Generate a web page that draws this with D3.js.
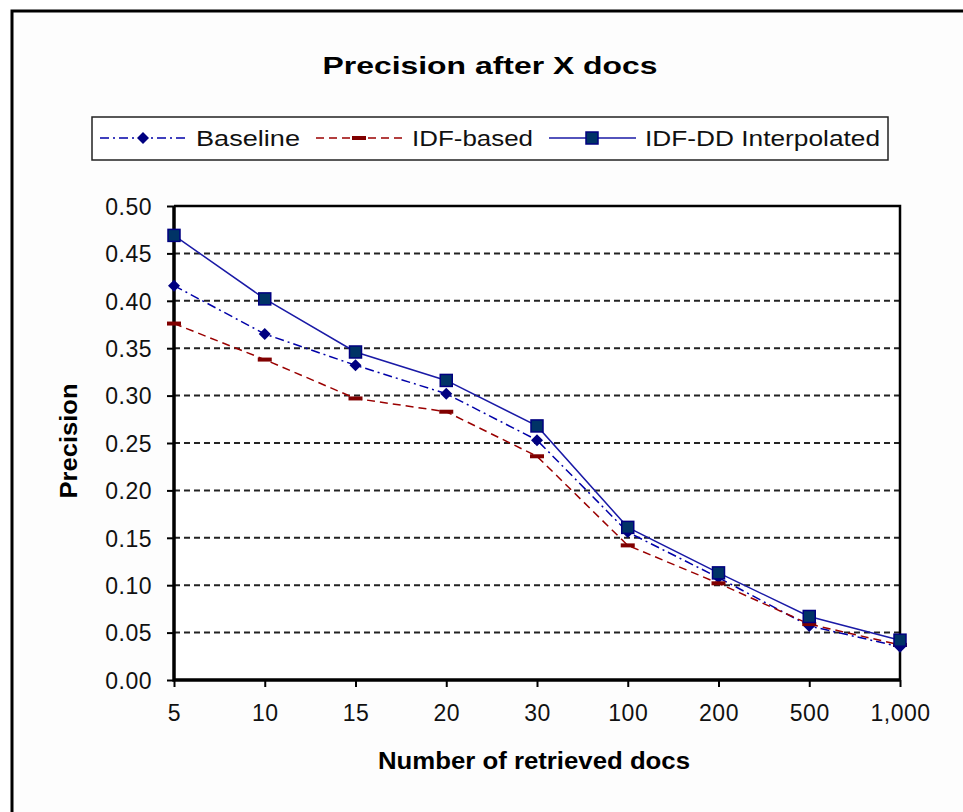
<!DOCTYPE html>
<html>
<head>
<meta charset="utf-8">
<script src="https://cdn.jsdelivr.net/npm/d3@7"></script>
<style>
	body { margin: 0; background: #fff; }
	svg { display: block; font-family: Arial, "Liberation Sans", sans-serif; }
</style>
</head>
<body>
<svg id="chart" width="963" height="812"></svg>
<script>
// chart data
var categories = ["5", "10", "15", "20", "30", "100", "200", "500", "1,000"];
var baseline = [0.416, 0.365, 0.332, 0.302, 0.253, 0.156, 0.108, 0.057, 0.035];
var idfBased = [0.376, 0.338, 0.297, 0.283, 0.236, 0.142, 0.102, 0.059, 0.037];
var idfDD = [0.469, 0.402, 0.346, 0.316, 0.268, 0.161, 0.113, 0.067, 0.042];
var yTicks = [0, 0.05, 0.10, 0.15, 0.20, 0.25, 0.30, 0.35, 0.40, 0.45, 0.50];

var series = [
	{name: "Baseline", values: baseline, color: "#0000a8", dash: "9,4,2,4", marker: "diamond"},
	{name: "IDF-based", values: idfBased, color: "#9a0000", dash: "8,5", marker: "bar"},
	{name: "IDF-DD Interpolated", values: idfDD, color: "#1a1aa6", dash: null, marker: "square"}
];

var plotLeft = 174, plotRight = 900, plotTop = 206, plotBottom = 680;
var svg = d3.select("#chart");

// outer frame
svg.append("rect")
	.attr("x", 12).attr("y", 11)
	.attr("width", 1000).attr("height", 900)
	.style("fill", "#fdfdfd")
	.style("stroke", "black")
	.style("stroke-width", 3);

var x = d3.scalePoint().domain(categories).range([plotLeft, plotRight]).padding(0);
var y = d3.scaleLinear().domain([0, 0.5]).range([plotBottom, plotTop]);

// title
svg.append("text")
	.attr("x", 490).attr("y", 74)
	.attr("text-anchor", "middle")
	.attr("textLength", 335).attr("lengthAdjust", "spacingAndGlyphs")
	.style("font-size", "24px").style("font-weight", "bold")
	.text("Precision after X docs");

// plot background
svg.append("rect")
	.attr("x", plotLeft).attr("y", plotTop)
	.attr("width", plotRight - plotLeft).attr("height", plotBottom - plotTop)
	.style("fill", "white");

// gridlines
svg.append("g").selectAll("line")
	.data(yTicks.filter(function (d) { return d > 0 && d < 0.5; }))
	.enter().append("line")
	.attr("x1", plotLeft).attr("x2", plotRight)
	.attr("y1", function (d) { return y(d); })
	.attr("y2", function (d) { return y(d); })
	.style("stroke", "#222")
	.style("stroke-width", 2)
	.style("stroke-dasharray", "6,4");

// axes
var yAxis = svg.append("g")
	.attr("transform", "translate(" + plotLeft + ",0)")
	.call(d3.axisLeft(y).tickValues(yTicks).tickFormat(d3.format(".2f")).tickSize(7).tickPadding(15));
var xAxis = svg.append("g")
	.attr("transform", "translate(0," + plotBottom + ")")
	.call(d3.axisBottom(x).tickSize(7).tickPadding(18));

[yAxis, xAxis].forEach(function (ax) {
	ax.select(".domain").remove();
	ax.selectAll(".tick line").style("stroke", "black").style("stroke-width", 2);
	ax.selectAll(".tick text")
		.style("font-size", "23px")
		.style("letter-spacing", "0.5px")
		.style("font-family", "Arial, 'Liberation Sans', sans-serif")
		.style("fill", "#111");
});
yAxis.selectAll(".tick text").attr("dy", "0.36em");

// plot frame
svg.append("path")
	.attr("d", "M " + plotLeft + " " + plotTop + " L " + plotRight + " " + plotTop + " L " + plotRight + " " + plotBottom)
	.style("fill", "none").style("stroke", "black").style("stroke-width", 2.5);
svg.append("path")
	.attr("d", "M " + plotLeft + " " + plotTop + " L " + plotLeft + " " + plotBottom + " L " + plotRight + " " + plotBottom)
	.style("fill", "none").style("stroke", "black").style("stroke-width", 3.5);

// axis titles
svg.append("text")
	.attr("transform", "translate(77,441) rotate(-90)")
	.attr("text-anchor", "middle")
	.attr("textLength", 115).attr("lengthAdjust", "spacingAndGlyphs")
	.style("font-size", "23px").style("font-weight", "bold")
	.text("Precision");
svg.append("text")
	.attr("x", 534).attr("y", 769)
	.attr("text-anchor", "middle")
	.attr("textLength", 312).attr("lengthAdjust", "spacingAndGlyphs")
	.style("font-size", "23px").style("font-weight", "bold")
	.text("Number of retrieved docs");

function drawMarker(g, type, cx, cy) {
	if (type == "diamond") {
		g.append("path")
			.attr("d", "M " + cx + " " + (cy - 6) + " L " + (cx + 6) + " " + cy + " L " + cx + " " + (cy + 6) + " L " + (cx - 6) + " " + cy + " Z")
			.style("fill", "#000080");
	} else if (type == "bar") {
		g.append("rect")
			.attr("x", cx - 7).attr("y", cy - 2)
			.attr("width", 14).attr("height", 4)
			.style("fill", "#800000");
	} else {
		g.append("rect")
			.attr("x", cx - 6).attr("y", cy - 6)
			.attr("width", 12).attr("height", 12)
			.style("fill", "#003366")
			.style("stroke", "#000080")
			.style("stroke-width", 1.5);
	}
}

// lines and markers
var line = d3.line()
	.x(function (d, i) { return x(categories[i]); })
	.y(function (d) { return y(d); });

series.forEach(function (s) {
	svg.append("path")
		.datum(s.values)
		.attr("d", line)
		.style("fill", "none")
		.style("stroke", s.color)
		.style("stroke-width", 1.5)
		.style("stroke-dasharray", s.dash);
	var g = svg.append("g");
	s.values.forEach(function (v, i) {
		drawMarker(g, s.marker, x(categories[i]), y(v));
	});
});

// legend
var legend = svg.append("g");
legend.append("rect")
	.attr("x", 92).attr("y", 117)
	.attr("width", 796).attr("height", 43)
	.style("fill", "white")
	.style("stroke", "#222")
	.style("stroke-width", 1.5);
var legendX = [100, 316, 549];
var legendW = [104, 121, 235];
series.forEach(function (s, i) {
	var lx = legendX[i], ly = 138;
	legend.append("line")
		.attr("x1", lx).attr("x2", lx + 87)
		.attr("y1", ly).attr("y2", ly)
		.style("stroke", s.color)
		.style("stroke-width", 1.5)
		.style("stroke-dasharray", s.dash);
	drawMarker(legend, s.marker, lx + 43, ly);
	legend.append("text")
		.attr("x", lx + 96).attr("y", ly + 8)
		.attr("textLength", legendW[i]).attr("lengthAdjust", "spacingAndGlyphs")
		.style("font-size", "22px")
		.style("fill", "#111")
		.text(s.name);
});
</script>
</body>
</html>
